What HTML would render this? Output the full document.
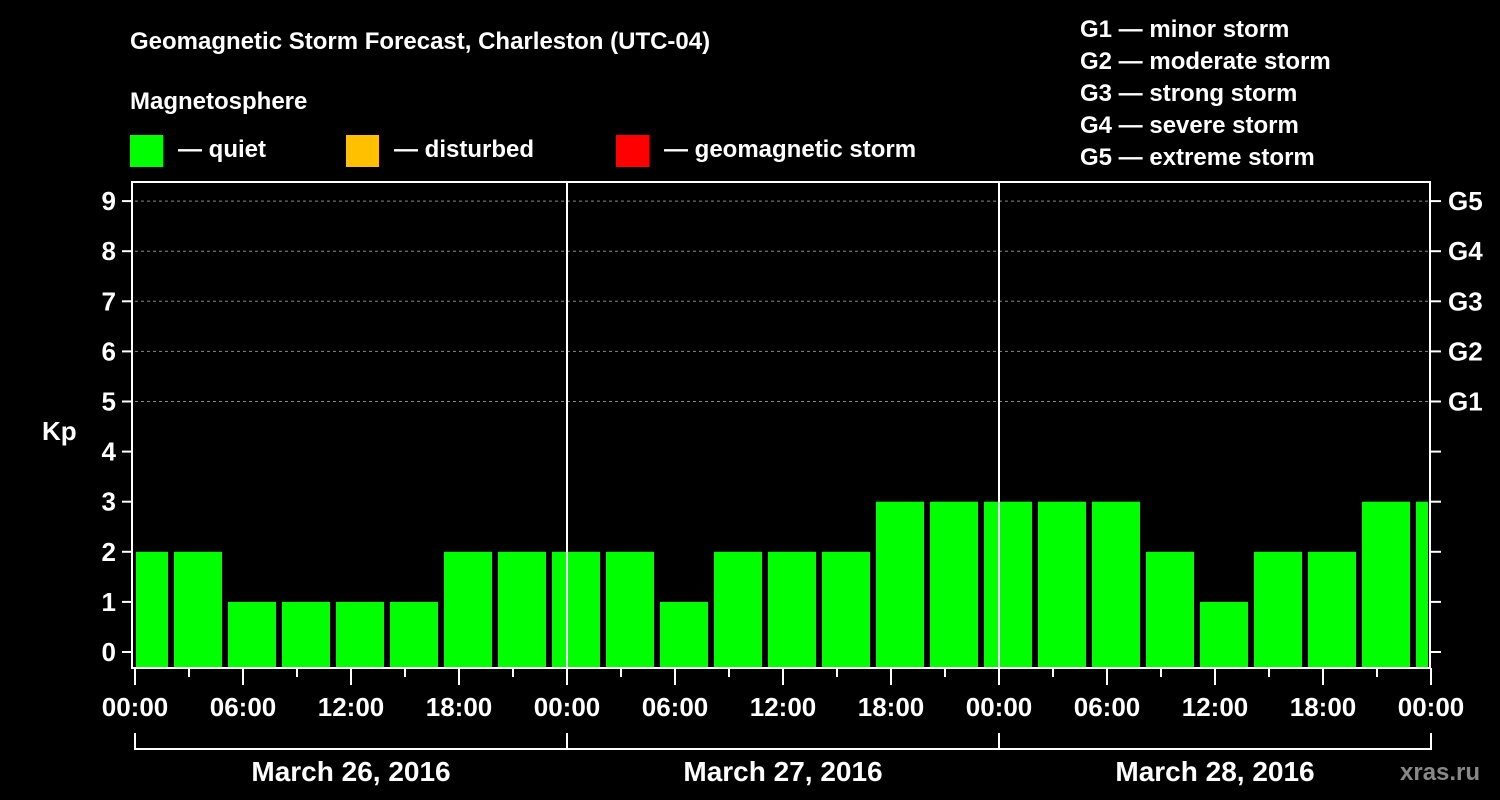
<!DOCTYPE html>
<html><head><meta charset="utf-8"><style>
html,body{margin:0;padding:0;background:#000;}
svg{display:block;font-family:"Liberation Sans",Arial,sans-serif;font-weight:bold;}
</style></head><body>
<svg id="chart" width="1500" height="800" viewBox="0 0 1500 800">
<rect width="1500" height="800" fill="#000"/>
<text x="130" y="49" fill="#fff" font-size="24">Geomagnetic Storm Forecast, Charleston (UTC-04)</text>
<text x="130" y="109" fill="#fff" font-size="24">Magnetosphere</text>
<g><rect x="130" y="135" width="33" height="32" fill="#00ff00"/><text x="178" y="157" fill="#fff" font-size="24">— quiet</text></g>
<g><rect x="346" y="135" width="33" height="32" fill="#ffc000"/><text x="394" y="157" fill="#fff" font-size="24">— disturbed</text></g>
<g><rect x="616" y="135" width="33" height="32" fill="#ff0000"/><text x="664" y="157" fill="#fff" font-size="24">— geomagnetic storm</text></g>
<g fill="#fff" font-size="24">
<text x="1080" y="37">G1 — minor storm</text>
<text x="1080" y="69">G2 — moderate storm</text>
<text x="1080" y="101">G3 — strong storm</text>
<text x="1080" y="133">G4 — severe storm</text>
<text x="1080" y="165">G5 — extreme storm</text>
</g>
<text x="42" y="440" fill="#fff" font-size="26">Kp</text>
<text x="1400" y="780" fill="#888" font-size="24">xras.ru</text>
<g id="grid"></g>
<g id="bars"></g>
<g id="axes"></g>
</svg>
<script>
const kpValues=[2,2,1,1,1,1,2,2,2,2,1,2,2,2,3,3,3,3,3,2,1,2,2,3,3];
const yTicks=[0,1,2,3,4,5,6,7,8,9];
const gLabels=["G1","G2","G3","G4","G5"];
const xTickLabels=["00:00","06:00","12:00","18:00","00:00","06:00","12:00","18:00","00:00","06:00","12:00","18:00","00:00"];
const dayLabels=["March 26, 2016","March 27, 2016","March 28, 2016"];
const NS="http://www.w3.org/2000/svg";
const X0=135,X1=1431,Y0=652,YU=50.1,TOP=182,BOT=668;
const xs=h=>X0+h*(X1-X0)/72;
const ys=v=>Y0-v*YU;
function mk(tag,attrs,parent){const e=document.createElementNS(NS,tag);for(const k in attrs)e.setAttribute(k,attrs[k]);document.getElementById(parent).appendChild(e);return e;}
// grid
for(let v=5;v<=9;v++){
 const l=mk('line',{x1:X0,x2:X1,y1:ys(v),y2:ys(v),stroke:'#888','stroke-dasharray':'3,3','stroke-width':1},'grid');
 
 
}
// bars
kpValues.forEach((v,i)=>{
 let h0=3*i-5/6, x=Math.max(xs(h0),X0+1), x2=Math.min(xs(h0+8/3),X1-3);
 const r=mk('rect',{x:x,y:ys(v),width:x2-x,height:BOT-ys(v),fill:v>=5?'#ff0000':(v>=4?'#ffc000':'#00ff00')},'bars');
 
 
});
// frame & day separators
const fr=mk('rect',{x:132,y:TOP,width:X1-1-132,height:BOT-TOP,fill:'none',stroke:'#fff','stroke-width':2},'axes');


[1,2].forEach(d=>{
 const l=mk('line',{x1:xs(24*d),x2:xs(24*d),y1:TOP,y2:BOT,stroke:'#fff','stroke-width':2},'axes');
 
 
});
// y ticks
yTicks.forEach(v=>{
 mk('line',{x1:122,x2:132,y1:ys(v),y2:ys(v),stroke:'#fff','stroke-width':2},'axes');
 mk('line',{x1:X1-1,x2:X1+10,y1:ys(v),y2:ys(v),stroke:'#fff','stroke-width':2},'axes');
 const t=mk('text',{x:116,y:ys(v)+9,'text-anchor':'end',fill:'#fff','font-size':26},'axes');
 t.textContent=v;
 
 
 if(v>=5){
  const g=mk('text',{x:1448,y:ys(v)+9,fill:'#fff','font-size':26},'axes');
  g.textContent=gLabels[v-5];
  
  
 }
});
// x ticks
for(let h=0;h<=72;h+=3){
 mk('line',{x1:xs(h),x2:xs(h),y1:BOT,y2:h%6===0?685:677,stroke:'#fff','stroke-width':2},'axes');
}
xTickLabels.forEach((s,i)=>{
 const t=mk('text',{x:xs(i*6),y:716,'text-anchor':'middle',fill:'#fff','font-size':26},'axes');
 t.textContent=s;
 
 
});
mk('line',{x1:X0,x2:X1,y1:749,y2:749,stroke:'#fff','stroke-width':2},'axes');
for(let d=0;d<=3;d++) mk('line',{x1:xs(24*d),x2:xs(24*d),y1:733,y2:750,stroke:'#fff','stroke-width':2},'axes');
dayLabels.forEach((s,i)=>{
 const t=mk('text',{x:xs(24*i+12),y:781,'text-anchor':'middle',fill:'#fff','font-size':28},'axes');
 t.textContent=s;
 
 
});
</script>
</body></html>
